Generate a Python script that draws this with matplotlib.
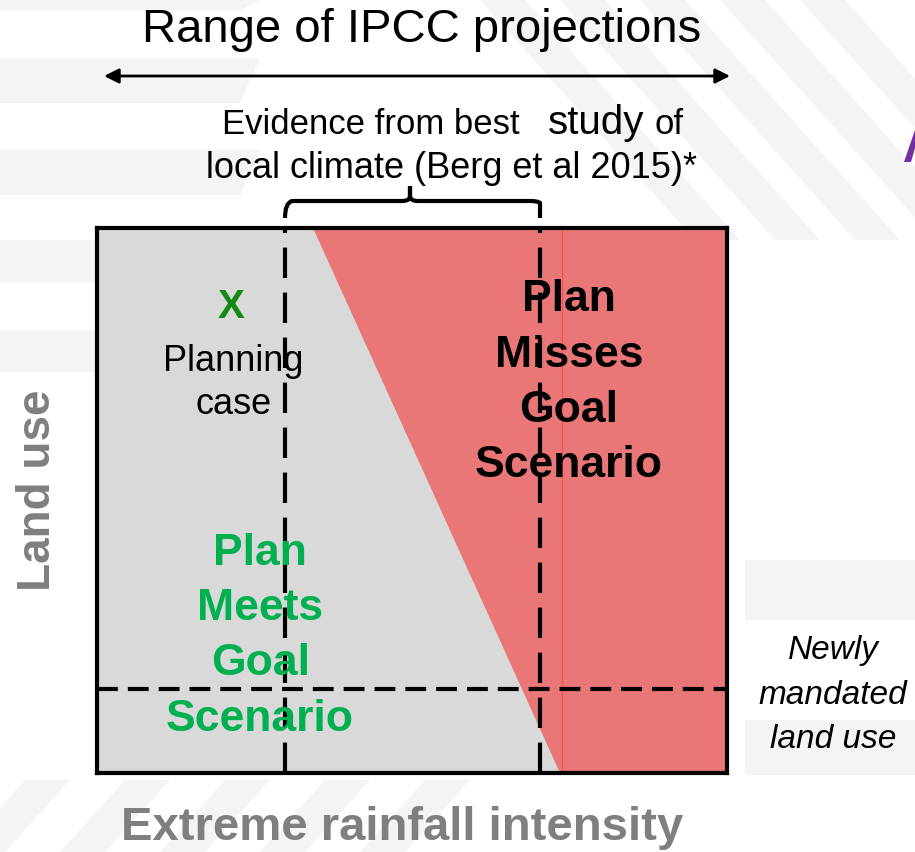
import matplotlib
matplotlib.use("Agg")
import matplotlib.pyplot as plt
from matplotlib.patches import Polygon, FancyArrowPatch, PathPatch
from matplotlib.path import Path

plt.rcParams['font.family'] = ['Liberation Sans', 'DejaVu Sans']

# diagram values (axes units: rainfall intensity 0..1, land use 0..1)
fail_edge_top = 0.343      # boundary of failing region at top of box
fail_edge_bottom = 0.735   # boundary of failing region at bottom of box
berg_range = [0.298, 0.703]
mandated_land_use = 0.154
planning_case = (0.213, 0.855)
meets_label = "Plan\nMeets\nGoal\nScenario"
misses_label = "Plan\nMisses\nGoal\nScenario"

W, H = 915, 852
fig = plt.figure(figsize=(W / 100, H / 100), dpi=100)

# page overlay in pixel coordinates for the slide decoration and labels
page = fig.add_axes([0, 0, 1, 1])
page.set_xlim(0, W)
page.set_ylim(H, 0)
page.axis("off")

# faint slide background
bg = "#f4f4f4"
for y0, y1 in [(0, 10), (58, 103), (150, 195), (240, 282), (330, 372)]:
    page.add_patch(Polygon([(0, y0), (260, y0), (240, y1), (0, y1)], color=bg, lw=0, zorder=0))
for x0 in [480, 560, 640, 720, 800]:
    page.add_patch(Polygon([(x0, 0), (x0 + 45, 0), (x0 + 260, 240), (x0 + 215, 240)],
                           color=bg, lw=0, zorder=0))
for x0 in [-40, 60, 160, 260, 360]:
    page.add_patch(Polygon([(x0, 852), (x0 + 45, 852), (x0 + 110, 780), (x0 + 65, 780)],
                           color=bg, lw=0, zorder=0))
for y0, y1 in [(560, 620), (720, 775)]:
    page.add_patch(Polygon([(745, y0), (915, y0), (915, y1), (745, y1)], color=bg, lw=0, zorder=0))

# main box
ax = fig.add_axes([97 / W, (H - 773) / H, 630 / W, 545 / H])
ax.set_xlim(0, 1)
ax.set_ylim(0, 1)
ax.set_facecolor("#d9d9d9")
ax.set_xticks([])
ax.set_yticks([])
for s in ax.spines.values():
    s.set_linewidth(3)
    s.set_color("black")
    s.set_zorder(10)

ax.add_patch(Polygon([(fail_edge_top, 1), (1, 1), (1, 0), (fail_edge_bottom, 0)],
                     closed=True, facecolor="#e97777", edgecolor="none", lw=0, zorder=1))
ax.axvline(fail_edge_bottom + 0.003, color="#ff4d4d", lw=0.8, zorder=2)

for xv in berg_range:
    ax.axvline(xv, color="black", lw=3, ls=(0, (7.3, 3.5)), zorder=3)
ax.axhline(mandated_land_use, color="black", lw=3, ls=(0, (5, 2.4)), zorder=3)

ax.text(planning_case[0], planning_case[1], "X", color="#138a13", fontsize=29,
        fontweight="bold", ha="center", va="center", zorder=4)
ax.text(planning_case[0] + 0.003, 0.716, "Planning\ncase", color="black", fontsize=26,
        ha="center", va="center", linespacing=1.3, zorder=4)
ax.text(0.259, 0.251, meets_label, color="#00b050", fontsize=32, fontweight="bold",
        ha="center", va="center", linespacing=1.45, zorder=4)
ax.text(0.749, 0.716, misses_label, color="black", fontsize=32, fontweight="bold",
        ha="center", va="center", linespacing=1.45, zorder=4)

# labels around the box
page.text(422, 30, "Range of IPCC projections", fontsize=34, ha="center", va="center")
page.add_patch(FancyArrowPatch((104, 76), (730, 76), arrowstyle="<|-|>", mutation_scale=22,
                               color="black", lw=2, shrinkA=0, shrinkB=0))
page.text(222, 134, "Evidence from best", fontsize=25, ha="left", va="baseline")
page.text(548, 134, "study", fontsize=29, ha="left", va="baseline")
page.text(654, 134, "of", fontsize=25, ha="left", va="baseline")
page.text(452, 178, "local climate (Berg et al 2015)*", fontsize=26, ha="center",
          va="baseline")

# curly brace over the Berg et al range
verts = [(285, 218), (285, 203), (292, 201), (300, 201), (402, 201), (410, 201), (410, 196),
         (410, 186), (410, 196), (410, 201), (418, 201), (530, 201), (538, 201), (540, 203),
         (540, 218)]
codes = [Path.MOVETO, Path.CURVE3, Path.CURVE3, Path.LINETO, Path.LINETO, Path.CURVE3,
         Path.CURVE3, Path.LINETO, Path.LINETO, Path.CURVE3, Path.CURVE3, Path.LINETO,
         Path.CURVE3, Path.CURVE3, Path.LINETO]
page.add_patch(PathPatch(Path(verts, codes), facecolor="none", edgecolor="black", lw=3,
                         zorder=5))

page.text(38, 490, "Land use", fontsize=33, fontweight="bold", color="#7f7f7f",
          rotation=90, ha="center", va="center")
page.text(402, 828, "Extreme rainfall intensity", fontsize=34, fontweight="bold",
          color="#7f7f7f", ha="center", va="center")
page.text(833, 695, "Newly\nmandated\nland use", fontsize=24, fontstyle="italic",
          ha="center", va="center", linespacing=1.55)

# clipped purple glyph at the right edge of the slide
page.add_patch(Polygon([(904, 162), (911, 162), (915, 148), (915, 130)],
                       color="#7030a0", lw=0, zorder=1))

fig.savefig("out.png", dpi=100)
